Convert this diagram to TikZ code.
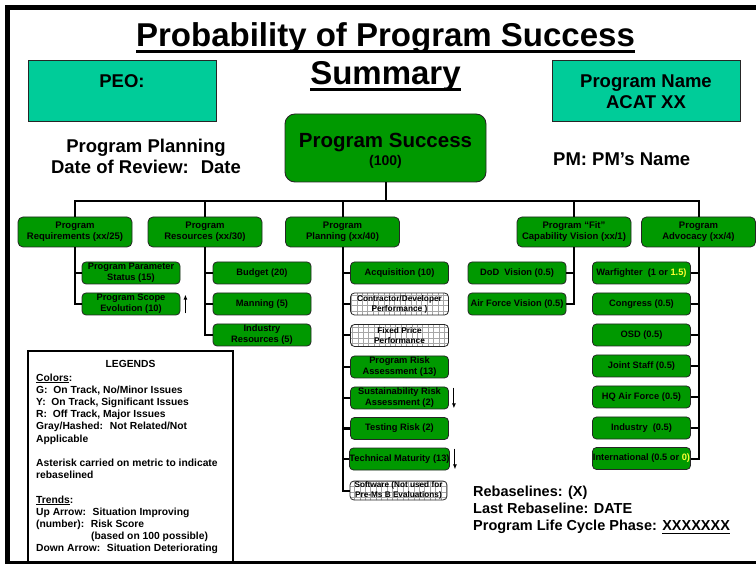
\documentclass[tikz,border=0pt]{standalone}
\usepackage{fontspec}
\setmainfont{Liberation Sans}
\usetikzlibrary{arrows.meta}

\definecolor{trackgreen}{RGB}{0,153,0}
\definecolor{headteal}{RGB}{0,204,153}
\definecolor{scoreyellow}{RGB}{255,255,51}

% underline with its own depth
\newsavebox{\ulbox}
\newcommand{\ulbar}[2][2.5pt]{\sbox{\ulbox}{#2}\rlap{\rule[-#1]{\wd\ulbox}{0.09em}}\usebox{\ulbox}}

\tikzset{
  titleline/.style={anchor=base, inner sep=0pt, font=\bfseries\fontsize{33}{38}\selectfont},
  headbox/.style={draw=black!85, fill=headteal, line width=1pt, minimum width=188pt, minimum height=61pt, align=center, font=\bfseries\fontsize{18.5}{21}\selectfont},
  headtext/.style={font=\bfseries\fontsize{18.5}{21}\selectfont},
  topbox/.style={draw=black!85, fill=trackgreen, line width=0.9pt, rounded corners=10pt, minimum width=201pt, minimum height=68pt},
  catbox/.style={draw=black!85, fill=trackgreen, line width=0.8pt, rounded corners=5pt, minimum width=114pt, minimum height=30pt, inner sep=0pt, align=center, font=\bfseries\fontsize{9.5}{11}\selectfont},
  metric/.style={draw=black!85, fill=trackgreen, line width=0.8pt, rounded corners=4pt, minimum width=98pt, minimum height=22pt, inner sep=0pt, align=center, font=\bfseries\fontsize{9.3}{11}\selectfont},
  hashed/.style={metric, fill=white, font=\bfseries\fontsize{8.3}{10}\selectfont,
    path picture={\draw[black!35, line width=0.8pt] ([shift={(-2pt,-2pt)}]path picture bounding box.south west) grid[step=5.4pt] (path picture bounding box.north east);}},
  link/.style={line width=2pt},
  trend/.style={line width=1.1pt, -{Latex[length=5pt,width=4pt]}},
  legendtext/.style={font=\bfseries\fontsize{10.3}{12.2}\selectfont},
}

\begin{document}
\begin{tikzpicture}[x=1pt,y=-1pt]
\useasboundingbox (0,0) rectangle (756,564);

% frame
\draw[line width=5pt] (756,7.5) -- (7.5,7.5) -- (7.5,563) -- (756,563);

% title
\node[titleline] (title) at (385.5,47) {\ulbar[6pt]{Probability of Program Success}};
\node[titleline] (titlesub) at (385.5,85) {\ulbar[6pt]{Summary}};

% header
\node[headbox] (peo) at (122,91.5) {PEO:\\\phantom{ACAT XX}};
\node[headbox] (progname) at (646,91.5) {Program Name\\ACAT XX};
\node[headtext, align=center] (review) at (146,156.8) {Program Planning\\Date of Review:~ Date};
\node[headtext, anchor=base west, inner sep=0pt] (pm) at (553,166) {PM: PM’s Name};

% program success
\node[topbox] (succ) at (385.5,148) {};
\node[anchor=base, inner sep=0pt, font=\bfseries\fontsize{20.5}{24}\selectfont] (succname) at (385.5,148) {Program Success};
\node[anchor=base, inner sep=0pt, font=\bfseries\fontsize{14}{16}\selectfont] (succscore) at (385.5,166) {(100)};

% factors
\node[catbox] (req) at (75,232) {Program\\Requirements (xx/25)};
\node[catbox] (res) at (205,232) {Program\\Resources (xx/30)};
\node[catbox] (plan) at (342.5,232) {Program\\Planning (xx/40)};
\node[catbox] (fit) at (574,232) {Program “Fit”\\Capability Vision (xx/1)};
\node[catbox] (adv) at (698.5,232) {Program\\Advocacy (xx/4)};

% requirements
\node[metric] (param) at (131,273) {Program Parameter\\Status (15)};
\node[metric] (scope) at (131,304) {Program Scope\\Evolution (10)};

% resources
\node[metric] (budget) at (262,273) {Budget (20)};
\node[metric] (manning) at (262,304) {Manning (5)};
\node[metric] (indres) at (262,335) {Industry\\Resources (5)};

% planning
\node[metric] (acq) at (399.5,273) {Acquisition (10)};
\node[hashed] (contr) at (399.5,304) {Contractor/Developer\\Performance )};
\node[hashed] (fixed) at (399.5,335.5) {Fixed Price\\Performance};
\node[metric] (risk) at (399.5,367) {Program Risk\\Assessment (13)};
\node[metric] (sust) at (399.5,398) {Sustainability Risk\\Assessment (2)};
\node[metric] (test) at (399.5,428.5) {Testing Risk (2)};
\node[metric] (tech) at (399.5,459) {Technical Maturity (13)};
\node[hashed, minimum width=97pt, minimum height=19pt, font=\bfseries\fontsize{8.2}{9.5}\selectfont] (soft) at (398.5,490.5) {Software (Not used for\\Pre-Ms B Evaluations)};

% fit
\node[metric] (dod) at (517,273) {DoD~ Vision (0.5)};
\node[metric] (afv) at (517,304) {Air Force Vision (0.5)};

% advocacy
\node[metric] (warf) at (641.5,273) {Warfighter~ (1 or \textcolor{scoreyellow}{1.5)}};
\node[metric] (cong) at (641.5,304) {Congress (0.5)};
\node[metric] (osd) at (641.5,335) {OSD (0.5)};
\node[metric] (joint) at (641.5,366) {Joint Staff (0.5)};
\node[metric] (hqaf) at (641.5,397) {HQ Air Force (0.5)};
\node[metric] (indus) at (641.5,428) {Industry~ (0.5)};
\node[metric] (intl) at (641.5,458.5) {International (0.5 or \textcolor{scoreyellow}{0)}};

% tree
\coordinate (bus) at (0,201);
\draw[link] (succ.south) -- (succ.south |- bus);
\draw[link] (req.north) -- (req.north |- bus) -- (adv.north |- bus) -- (adv.north);
\foreach \n in {res,plan,fit}
  \draw[link] (\n.north) -- (\n.north |- bus);

\draw[link] (req.south) |- (scope.west);
\draw[link] (param.west) -- (param.west -| req.south);

\draw[link] (res.south) |- (indres.west);
\foreach \n in {budget,manning}
  \draw[link] (\n.west) -- (\n.west -| res.south);

\draw[link] (plan.south) |- (soft.west);
\foreach \n in {acq,contr,fixed,risk,sust,test,tech}
  \draw[link] (\n.west) -- (\n.west -| plan.south);

\draw[link] (fit.south) |- (afv.east);
\draw[link] (dod.east) -- (dod.east -| fit.south);

\draw[link] (adv.south) |- (intl.east);
\foreach \n in {warf,cong,osd,joint,hqaf,indus}
  \draw[link] (\n.east) -- (\n.east -| adv.south);

% trends
\draw[trend] ([xshift=5pt,yshift=2pt]scope.south east) -- ([xshift=5pt,yshift=-2pt]scope.north east);
\draw[trend] ([xshift=5pt,yshift=-1pt]sust.north east) -- ([xshift=5pt,yshift=1pt]sust.south east);
\draw[trend] ([xshift=5pt,yshift=-1pt]tech.north east) -- ([xshift=5pt,yshift=1pt]tech.south east);

% legend
\draw[line width=1.2pt] (28,563) -- (28,351) -- (233,351) -- (233,563);
\node[legendtext, anchor=base, inner sep=0pt] (legtitle) at (130.5,367.7) {LEGENDS};
\node[legendtext, anchor=north west, inner sep=0pt, align=left] (legbody) at (36,373.5) {%
  \ulbar[2pt]{Colors}:\\
  G:~ On Track, No/Minor Issues\\
  Y:~ On Track, Significant Issues\\
  R:~ Off Track, Major Issues\\
  Gray/Hashed:~ Not Related/Not\\
  Applicable\\[12.2pt]
  Asterisk carried on metric to indicate\\
  rebaselined\\[12.2pt]
  \ulbar[2pt]{Trends}:\\
  Up Arrow:~ Situation Improving\\
  (number):~ Risk Score\\
  \hspace*{55pt}(based on 100 possible)\\
  Down Arrow:~ Situation Deteriorating};

% rebaselines
\node[anchor=north west, inner sep=0pt, align=left, font=\bfseries\fontsize{14.5}{17}\selectfont] (phase) at (473,485.4) {%
  Rebaselines: (X)\\
  Last Rebaseline: DATE\\
  Program Life Cycle Phase: \ulbar[4pt]{XXXXXXX}};

\end{tikzpicture}
\end{document}
